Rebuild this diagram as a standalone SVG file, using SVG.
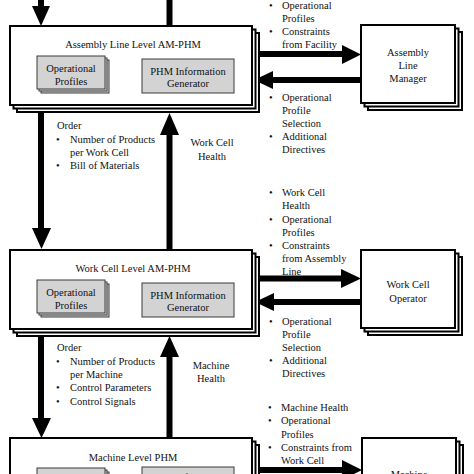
<svg xmlns="http://www.w3.org/2000/svg" width="474" height="474" viewBox="0 0 474 474">
<style>
.box{fill:#fff;stroke:#000;stroke-width:2}
.inner{fill:#d3d3d3;stroke:#3a3a3a;stroke-width:1}
text{font-family:"Liberation Serif","Times New Roman",serif;font-size:10.5px;fill:#111}
.c{text-anchor:middle}
.shaft{stroke:#000;stroke-width:6;fill:none}
.head{fill:#000}
</style>
<rect width="474" height="474" fill="#fff"/>

<g id="connectors">
  <line class="shaft" x1="41" y1="-2" x2="41" y2="8"/>
  <polygon class="head" points="32,6 50,6 41,26"/>
  <line class="shaft" x1="169.5" y1="-2" x2="169.5" y2="26"/>
  <line class="shaft" x1="41" y1="112" x2="41" y2="229"/>
  <polygon class="head" points="32,228 51,228 41.5,249"/>
  <line class="shaft" x1="169.5" y1="250" x2="169.5" y2="134"/>
  <polygon class="head" points="160,135 179,135 169.5,113"/>
  <line class="shaft" x1="41" y1="335" x2="41" y2="419"/>
  <polygon class="head" points="32,418 51,418 41.5,438"/>
  <line class="shaft" x1="169.5" y1="438" x2="169.5" y2="356"/>
  <polygon class="head" points="160,357 179,357 169.5,336"/>
  <line class="shaft" x1="259" y1="54" x2="343" y2="54"/>
  <polygon class="head" points="342,45 361,54.5 342,64"/>
  <line class="shaft" x1="361" y1="80" x2="271" y2="80"/>
  <polygon class="head" points="273,71 254,80 273,89"/>
  <line class="shaft" x1="259" y1="278.5" x2="343" y2="278.5"/>
  <polygon class="head" points="341,269 361,278.5 341,288"/>
  <line class="shaft" x1="361" y1="302" x2="272" y2="302"/>
  <polygon class="head" points="274,293 255,302 274,311"/>
  <line class="shaft" x1="259" y1="470" x2="344" y2="470"/>
  <polygon class="head" points="342,460 362,470 342,480"/>
</g>

<g id="assembly-line-level">
  <rect class="box" x="17" y="33" width="242" height="79"/>
  <rect class="box" x="13.5" y="29.5" width="242" height="79"/>
  <rect class="box" x="10" y="26" width="242" height="79"/>
  <text class="c" x="133" y="48">Assembly Line Level AM-PHM</text>
  <rect class="inner" x="41" y="60" width="68" height="33"/>
  <rect class="inner" x="39" y="58" width="68" height="33"/>
  <rect class="inner" x="37" y="56" width="68" height="33"/>
  <text class="c" x="71" y="72">Operational</text>
  <text class="c" x="71" y="85">Profiles</text>
  <rect class="inner" x="142" y="59" width="92" height="34"/>
  <text class="c" x="188" y="75">PHM Information</text>
  <text class="c" x="188" y="87">Generator</text>
</g>

<g id="work-cell-level">
  <rect class="box" x="17" y="257" width="242" height="79"/>
  <rect class="box" x="13.5" y="253.5" width="242" height="79"/>
  <rect class="box" x="10" y="250" width="242" height="79"/>
  <text class="c" x="133" y="272">Work Cell Level AM-PHM</text>
  <rect class="inner" x="41" y="284" width="68" height="33"/>
  <rect class="inner" x="39" y="282" width="68" height="33"/>
  <rect class="inner" x="37" y="280" width="68" height="33"/>
  <text class="c" x="71" y="296">Operational</text>
  <text class="c" x="71" y="309">Profiles</text>
  <rect class="inner" x="142" y="283" width="92" height="34"/>
  <text class="c" x="188" y="299">PHM Information</text>
  <text class="c" x="188" y="311">Generator</text>
</g>

<g id="machine-level">
  <rect class="box" x="17" y="445" width="242" height="79"/>
  <rect class="box" x="13.5" y="441.5" width="242" height="79"/>
  <rect class="box" x="10" y="438" width="242" height="79"/>
  <text class="c" x="133" y="461">Machine Level PHM</text>
  <rect class="inner" x="41" y="472" width="68" height="33"/>
  <rect class="inner" x="39" y="470" width="68" height="33"/>
  <rect class="inner" x="37" y="468" width="68" height="33"/>
  <rect class="inner" x="142" y="467" width="92" height="34"/>
  <text class="c" x="188" y="481">PHM Information</text>
</g>

<g id="assembly-line-manager">
  <rect class="box" x="368" y="32" width="94" height="78"/>
  <rect class="box" x="364.5" y="28.5" width="94" height="78"/>
  <rect class="box" x="361" y="25" width="94" height="78"/>
  <text class="c" x="408" y="56">Assembly</text>
  <text class="c" x="408" y="69">Line</text>
  <text class="c" x="408" y="82">Manager</text>
</g>

<g id="work-cell-operator">
  <rect class="box" x="368" y="257" width="94" height="78"/>
  <rect class="box" x="364.5" y="253.5" width="94" height="78"/>
  <rect class="box" x="361" y="250" width="94" height="78"/>
  <text class="c" x="408" y="288">Work Cell</text>
  <text class="c" x="408" y="302">Operator</text>
</g>

<g id="machine-operator">
  <rect class="box" x="369" y="445" width="94" height="78"/>
  <rect class="box" x="365.5" y="441.5" width="94" height="78"/>
  <rect class="box" x="362" y="438" width="94" height="78"/>
  <text class="c" x="409" y="478">Machine</text>
</g>

<g id="labels">
  <text x="57" y="129">Order</text>
  <text x="56" y="143">•</text><text x="70" y="143">Number of Products</text>
  <text x="70" y="156">per Work Cell</text>
  <text x="56" y="169">•</text><text x="70" y="169">Bill of Materials</text>
  <text class="c" x="212" y="146">Work Cell</text>
  <text class="c" x="212" y="160">Health</text>
  <text x="57" y="351">Order</text>
  <text x="56" y="365">•</text><text x="70" y="365">Number of Products</text>
  <text x="70" y="378">per Machine</text>
  <text x="56" y="391">•</text><text x="70" y="391">Control Parameters</text>
  <text x="56" y="405">•</text><text x="70" y="405">Control Signals</text>
  <text class="c" x="211" y="369">Machine</text>
  <text class="c" x="211" y="382">Health</text>
  <text x="269" y="9">•</text><text x="282" y="9">Operational</text>
  <text x="282" y="22">Profiles</text>
  <text x="269" y="35">•</text><text x="282" y="35">Constraints</text>
  <text x="282" y="48">from Facility</text>
  <text x="269" y="101">•</text><text x="282" y="101">Operational</text>
  <text x="282" y="114">Profile</text>
  <text x="282" y="127">Selection</text>
  <text x="269" y="140">•</text><text x="282" y="140">Additional</text>
  <text x="282" y="153">Directives</text>
  <text x="269" y="196">•</text><text x="282" y="196">Work Cell</text>
  <text x="282" y="209">Health</text>
  <text x="269" y="223">•</text><text x="282" y="223">Operational</text>
  <text x="282" y="236">Profiles</text>
  <text x="269" y="249">•</text><text x="282" y="249">Constraints</text>
  <text x="282" y="262">from Assembly</text>
  <text x="282" y="275">Line</text>
  <text x="269" y="325">•</text><text x="282" y="325">Operational</text>
  <text x="282" y="338">Profile</text>
  <text x="282" y="351">Selection</text>
  <text x="269" y="364">•</text><text x="282" y="364">Additional</text>
  <text x="282" y="377">Directives</text>
  <text x="268" y="411">•</text><text x="281" y="411">Machine Health</text>
  <text x="268" y="424">•</text><text x="281" y="424">Operational</text>
  <text x="281" y="438">Profiles</text>
  <text x="268" y="451">•</text><text x="281" y="451">Constraints from</text>
  <text x="281" y="464">Work Cell</text>
</g>
</svg>
